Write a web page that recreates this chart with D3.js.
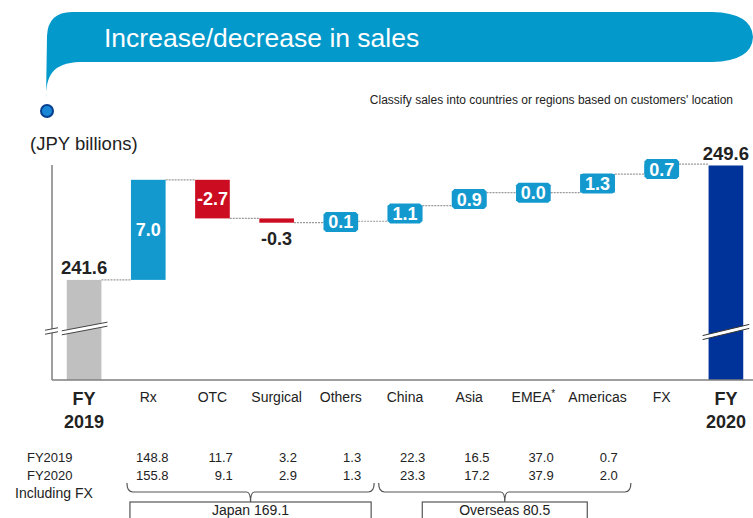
<!DOCTYPE html>
<html lang="en">
<head>
    <meta charset="UTF-8">
    <title>Increase/decrease in sales</title>
    <style>
        body { margin: 0; background: #fff; }
        text { font-family: 'Liberation Sans', Arial, sans-serif; fill: #222; }
        .val { font-weight: bold; font-size: 18px; }
        .cat { font-size: 14px; }
        .tbl { font-size: 13px; }
        .connector { stroke: #9a9a9a; stroke-width: 1.2; stroke-dasharray: 2,1; }
    </style>
</head>
<body>
<script src="https://d3js.org/d3.v7.min.js"></script>
<script>

    const size = {'width': 753, 'height': 518};

    // waterfall data
    const categories = ['FY2019', 'Rx', 'OTC', 'Surgical', 'Others', 'China', 'Asia', 'EMEA', 'Americas', 'FX', 'FY2020'];
    const startValue = 241.6;
    const endValue = 249.6;
    const deltas = [7.0, -2.7, -0.3, 0.1, 1.1, 0.9, 0.0, 1.3, 0.7];

    // table under the chart
    const tableColumns = ['Rx', 'OTC', 'Surgical', 'Others', 'China', 'Asia', 'EMEA', 'Americas'];
    const fy2019Sales = ['148.8', '11.7', '3.2', '1.3', '22.3', '16.5', '37.0', '0.7'];
    const fy2020Sales = ['155.8', '9.1', '2.9', '1.3', '23.3', '17.2', '37.9', '2.0'];
    const groups = [
        {'label': 'Japan 169.1', 'from': 'Rx', 'to': 'Others'},
        {'label': 'Overseas 80.5', 'from': 'China', 'to': 'Americas'}
    ];

    const colour = {
        'up': '#1499cf',
        'down': '#cc0c20',
        'start': '#c0c0c0',
        'end': '#003399',
        'banner': '#0399cb'
    };

    let svg = d3.select('body').append('svg')
        .attr('width', size.width)
        .attr('height', size.height);

    // title banner
    svg.append('path')
        .attr('d', 'M46,99 C46,76 52,63 80,62 L712,62 Q752,61 753,37 Q752,13 712,12 L72,12 Q48,12 47,36 Z')
        .style('fill', colour.banner);

    svg.append('circle')
        .attr('cx', 47).attr('cy', 111).attr('r', 6)
        .style('fill', '#1a86d6')
        .style('stroke', '#063f8f')
        .style('stroke-width', 2);

    svg.append('text')
        .attr('x', 104).attr('y', 47)
        .text('Increase/decrease in sales')
        .style('fill', '#fff')
        .style('font-size', '26.5px');

    svg.append('text')
        .attr('x', 733).attr('y', 104)
        .attr('text-anchor', 'end')
        .text("Classify sales into countries or regions based on customers' location")
        .style('font-size', '12px');

    svg.append('text')
        .attr('x', 30).attr('y', 150)
        .text('(JPY billions)')
        .style('font-size', '18.5px');

    // scales
    const plot = {'left': 52, 'right': 758, 'top': 165, 'bottom': 380};

    let x = d3.scaleBand()
        .domain(categories)
        .range([plot.left, plot.right])
        .paddingInner(0.46)
        .paddingOuter(0.23);

    let y = d3.scaleLinear()
        .domain([234.6, 249.6])
        .range([plot.bottom, plot.top + 0.5]);

    // build steps
    let steps = [];
    let running = startValue;
    steps.push({'cat': categories[0], 'lo': y.domain()[0], 'hi': startValue, 'type': 'start', 'value': startValue});
    for (let i = 0; i < deltas.length; i++) {
        let next = running + deltas[i];
        steps.push({
            'cat': categories[i + 1],
            'lo': Math.min(running, next),
            'hi': Math.max(running, next),
            'from': running,
            'to': next,
            'type': deltas[i] < 0 ? 'down' : 'up',
            'value': deltas[i]
        });
        running = next;
    }
    steps.push({'cat': categories[categories.length - 1], 'lo': y.domain()[0], 'hi': endValue, 'type': 'end', 'value': endValue});

    // connectors
    let connectors = svg.append('g');
    for (let i = 0; i < steps.length - 1; i++) {
        let level = i == 0 ? startValue : steps[i].to;
        connectors.append('line')
            .classed('connector', true)
            .attr('x1', x(steps[i].cat) + x.bandwidth())
            .attr('x2', x(steps[i + 1].cat))
            .attr('y1', y(level))
            .attr('y2', y(level));
    }

    // bars
    svg.append('g').selectAll('rect')
        .data(steps)
        .enter().append('rect')
        .attr('x', function(d) { return x(d.cat); })
        .attr('y', function(d) { return y(d.hi); })
        .attr('width', x.bandwidth())
        .attr('height', function(d) { return Math.max(1, y(d.lo) - y(d.hi)); })
        .style('fill', function(d) { return colour[d.type]; });

    // axes
    svg.append('line')
        .attr('x1', plot.left).attr('x2', plot.left)
        .attr('y1', plot.top).attr('y2', plot.bottom)
        .style('stroke', '#7f7f7f').style('stroke-width', 1.5);
    svg.append('line')
        .attr('x1', plot.left).attr('x2', size.width)
        .attr('y1', plot.bottom).attr('y2', plot.bottom)
        .style('stroke', '#7f7f7f').style('stroke-width', 1.5);

    // axis break marks
    function breakMark(x0, x1, yMid, slope, gap, lineColour) {
        let g = svg.append('g');
        let yl = yMid + (x1 - x0) / 2 * slope;
        let yr = yMid - (x1 - x0) / 2 * slope;
        g.append('polygon')
            .attr('points', [[x0, yl - gap / 2], [x1, yr - gap / 2], [x1, yr + gap / 2], [x0, yl + gap / 2]].join(' '))
            .style('fill', '#fff');
        [-gap / 2, gap / 2].forEach(function(o) {
            g.append('line')
                .attr('x1', x0).attr('y1', yl + o)
                .attr('x2', x1).attr('y2', yr + o)
                .style('stroke', lineColour).style('stroke-width', 1);
        });
    }
    let firstX = x(categories[0]);
    let lastX = x(categories[categories.length - 1]);
    breakMark(45, 58, 331, 0.19, 4, '#444');
    breakMark(firstX - 5, firstX + x.bandwidth() + 6, 328.5, 0.19, 4, '#444');
    breakMark(lastX - 6, lastX + x.bandwidth() + 6, 332, 0.24, 4, '#333');

    // value labels (plain hyphen for negatives, as in the slide)
    const fmt = d3.formatLocale({'decimal': '.', 'thousands': ',', 'grouping': [3], 'currency': ['', ''], 'minus': '-'}).format('.1f');
    let labels = svg.append('g');
    steps.forEach(function(d) {
        let cx = x(d.cat) + x.bandwidth() / 2;
        let h = y(d.lo) - y(d.hi);
        if (d.type == 'start' || d.type == 'end') {
            labels.append('text').classed('val', true)
                .attr('x', cx).attr('y', y(d.hi) - 6)
                .attr('text-anchor', 'middle')
                .text(fmt(d.value))
                .style('font-size', '18.5px');
        } else if (h > 25) {
            labels.append('text').classed('val', true)
                .attr('x', cx).attr('y', (y(d.lo) + y(d.hi)) / 2 + 6)
                .attr('text-anchor', 'middle')
                .style('fill', '#fff')
                .text(fmt(d.value));
        } else if (d.type == 'down') {
            labels.append('text').classed('val', true)
                .attr('x', cx).attr('y', y(d.lo) + 22)
                .attr('text-anchor', 'middle')
                .text(fmt(d.value));
        } else {
            // small increases get a tag box over the bar
            let cy = (y(d.lo) + y(d.hi)) / 2;
            let w = x.bandwidth(), th = 20, c = 2.5;
            let l = cx - w / 2, r = cx + w / 2, t = cy - th / 2, b = cy + th / 2;
            labels.append('path')
                .attr('d', 'M' + (l + c) + ',' + t + ' L' + (r - c) + ',' + t + ' L' + r + ',' + (t + c) +
                    ' L' + r + ',' + (b - c) + ' L' + (r - c) + ',' + b + ' L' + (l + c) + ',' + b +
                    ' L' + l + ',' + (b - c) + ' L' + l + ',' + (t + c) + ' Z')
                .style('fill', colour.up);
            labels.append('text').classed('val', true)
                .attr('x', cx).attr('y', cy + 6.5)
                .attr('text-anchor', 'middle')
                .style('fill', '#fff')
                .text(fmt(d.value));
        }
    });

    // category labels
    let cats = svg.append('g');
    categories.forEach(function(c, i) {
        let cx = x(c) + x.bandwidth() / 2;
        if (i == 0 || i == categories.length - 1) {
            let t = cats.append('text').classed('val', true)
                .attr('x', cx).attr('y', 405)
                .attr('text-anchor', 'middle');
            t.append('tspan').attr('x', cx).text('FY');
            t.append('tspan').attr('x', cx).attr('dy', 23).text(c.replace('FY', ''));
        } else {
            let t = cats.append('text').classed('cat', true)
                .attr('x', cx).attr('y', 402)
                .attr('text-anchor', 'middle')
                .text(c);
            if (c == 'EMEA') {
                t.append('tspan').attr('dy', -5).style('font-size', '10px').text('*');
            }
        }
    });

    // sales table
    let table = svg.append('g');
    [['FY2019', fy2019Sales, 462], ['FY2020', fy2020Sales, 480]].forEach(function(row) {
        table.append('text').classed('tbl', true)
            .attr('x', 27).attr('y', row[2])
            .text(row[0]);
        tableColumns.forEach(function(c, i) {
            table.append('text').classed('tbl', true)
                .attr('x', x(c) + x.bandwidth() + 3).attr('y', row[2])
                .attr('text-anchor', 'end')
                .text(row[1][i]);
        });
    });
    table.append('text').classed('tbl', true)
        .attr('x', 15).attr('y', 498)
        .text('Including FX')
        .style('font-size', '14px');

    // braces and group boxes
    groups.forEach(function(g) {
        let x0 = x(g.from) - 4;
        let x1 = x(g.to) + x.bandwidth() + 16;
        if (g.from == 'China') { x0 -= 5; }
        let mid = (x0 + x1) / 2;
        let top = 483, line = 492, tip = 502;
        table.append('path')
            .attr('d', 'M' + x0 + ',' + top + ' Q' + x0 + ',' + line + ' ' + (x0 + 6) + ',' + line +
                ' L' + (mid - 4) + ',' + line + ' Q' + mid + ',' + line + ' ' + mid + ',' + tip +
                ' Q' + mid + ',' + line + ' ' + (mid + 4) + ',' + line +
                ' L' + (x1 - 6) + ',' + line + ' Q' + x1 + ',' + line + ' ' + x1 + ',' + top)
            .style('fill', 'none')
            .style('stroke', '#555')
            .style('stroke-width', 1.2);
        let bw = g.from == 'Rx' ? x1 - x0 - 6 : 165;
        table.append('rect')
            .attr('x', mid - bw / 2).attr('y', tip)
            .attr('width', bw).attr('height', 30)
            .style('fill', '#fff')
            .style('stroke', '#555')
            .style('stroke-width', 1.2);
        table.append('text')
            .attr('x', mid).attr('y', 514.5)
            .attr('text-anchor', 'middle')
            .text(g.label)
            .style('font-size', '14px');
    });

</script>
</body>
</html>
